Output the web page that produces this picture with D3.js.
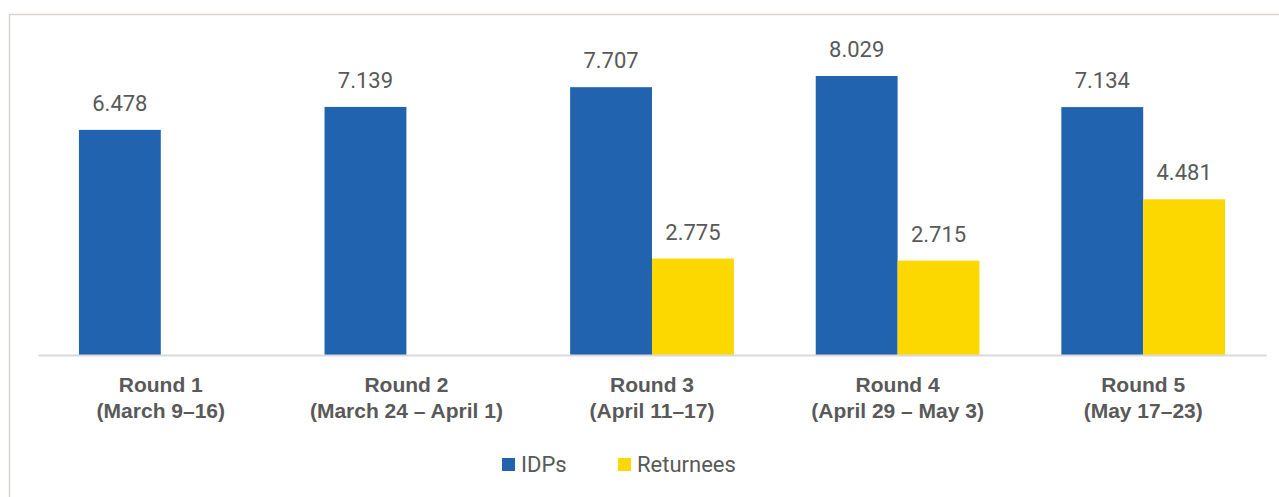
<!DOCTYPE html>
<html>
<head>
<meta charset="utf-8">
<script src="https://cdn.jsdelivr.net/npm/d3@7"></script>
<style>
  html, body { margin: 0; padding: 0; background: #fff; }
  svg { display: block; font-family: Roboto, "Open Sans", sans-serif; }
</style>
</head>
<body>
<svg id="chart" width="1279" height="497"></svg>
<script>
// data
const rounds = ['Round 1', 'Round 2', 'Round 3', 'Round 4', 'Round 5'];
const periods = ['(March 9–16)', '(March 24 – April 1)', '(April 11–17)', '(April 29 – May 3)', '(May 17–23)'];
const seriesNames = ['IDPs', 'Returnees'];
const idps = [6.478, 7.139, 7.707, 8.029, 7.134];
const returnees = [null, null, 2.775, 2.715, 4.481];

const colors = ['#2163ae', '#fdd800'];
const textColor = '#595959';

let svg = d3.select('#chart');

// outer frame (only left + top visible in the crop)
svg.append('path')
  .attr('d', 'M9.5,497 V14.5 H1279')
  .attr('fill', 'none')
  .attr('stroke', '#d9d5d3')
  .attr('stroke-width', 1.5);

let baseY = 355;
let x0 = d3.scaleBand()
  .domain(rounds)
  .range([38, 1266])
  .paddingInner(1 / 3)
  .paddingOuter(1 / 6);

let x1 = d3.scaleBand()
  .domain(seriesNames)
  .range([0, x0.bandwidth()]);

let y = d3.scaleLinear()
  .domain([0, 10])
  .range([baseY, baseY - 347.5]);

let rows = rounds.map((r, i) => ({
  round: r,
  values: [
    { name: 'IDPs', value: idps[i] },
    { name: 'Returnees', value: returnees[i] }
  ].filter(d => d.value != null)
}));

let group = svg.selectAll('.group')
  .data(rows)
  .enter().append('g')
  .attr('class', 'group')
  .attr('transform', d => `translate(${x0(d.round)},0)`);

group.selectAll('rect')
  .data(d => d.values)
  .enter().append('rect')
  .attr('x', d => x1(d.name))
  .attr('y', d => y(d.value))
  .attr('width', x1.bandwidth())
  .attr('height', d => baseY - y(d.value))
  .attr('fill', d => colors[seriesNames.indexOf(d.name)]);

group.selectAll('text.val')
  .data(d => d.values)
  .enter().append('text')
  .attr('class', 'val')
  .attr('x', d => x1(d.name) + x1.bandwidth() / 2)
  .attr('y', d => y(d.value) - 19)
  .attr('text-anchor', 'middle')
  .attr('fill', textColor)
  .style('font-size', '22px')
  .text(d => d3.format('.3f')(d.value));

// x axis
let xAxis = svg.append('g')
  .attr('transform', `translate(0,${baseY})`)
  .call(d3.axisBottom(x0).tickSize(0).tickFormat(''));
xAxis.select('.domain')
  .attr('stroke', '#d9d9d9')
  .attr('stroke-width', 2);

xAxis.selectAll('.tick').each(function (d, i) {
  let t = d3.select(this).append('text')
    .attr('fill', textColor)
    .attr('text-anchor', 'middle')
    .style('font-size', '21px')
    .style('font-weight', 'bold');
  t.append('tspan').attr('x', 0).attr('y', 37).text(rounds[i]);
  t.append('tspan').attr('x', 0).attr('y', 63).text(periods[i]);
});

// legend
let legendX = [502, 618];
let legend = svg.append('g')
  .attr('transform', 'translate(0,464.5)');
seriesNames.forEach((s, i) => {
  legend.append('rect')
    .attr('x', legendX[i])
    .attr('y', -6.5)
    .attr('width', 13)
    .attr('height', 13)
    .attr('fill', colors[i]);
  legend.append('text')
    .attr('x', legendX[i] + 19)
    .attr('y', 7)
    .attr('fill', textColor)
    .style('font-size', '22px')
    .text(s);
});
</script>
</body>
</html>
